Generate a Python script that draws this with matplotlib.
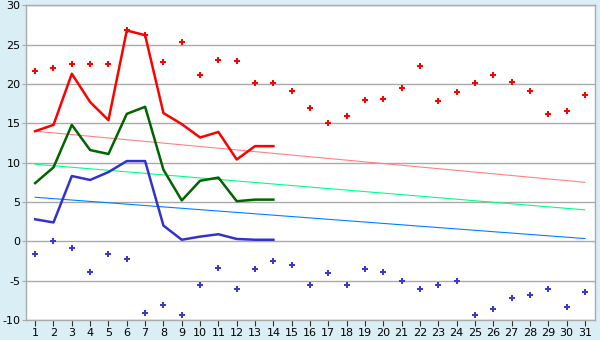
import numpy as np
import matplotlib
matplotlib.use('Agg')
import matplotlib.pyplot as plt

plt.rcParams['axes.unicode_minus'] = False

days = list(range(1, 32))

# daily max / min markers
max_pts = [21.7, 22.0, 22.5, 22.6, 22.5, 26.9, 26.2, 22.8, 25.3, 21.1, 23.0, 22.9, 20.1, 20.1, 19.1,
           16.9, 15.0, 15.9, 17.9, 18.1, 19.5, 22.3, 17.8, 19.0, 20.1, 21.1, 20.2, 19.1, 16.2, 16.6, 18.6]
min_pts = [-1.6, 0.0, -0.9, -3.9, -1.6, -2.2, -9.1, -8.1, -9.4, -5.6, -3.4, -6.0, -3.5, -2.5, -3.0,
           -5.5, -4.0, -5.6, -3.5, -3.9, -5.0, -6.1, -5.6, -5.0, -9.4, -8.6, -7.2, -6.8, -6.1, -8.3, -6.5]

# current month lines (days 1-14)
line_days = list(range(1, 15))
red_line = [14.0, 14.8, 21.3, 17.7, 15.4, 26.8, 26.2, 16.3, 14.9, 13.2, 13.9, 10.4, 12.1, 12.1]
green_line = [7.4, 9.4, 14.8, 11.6, 11.1, 16.2, 17.1, 9.1, 5.2, 7.7, 8.1, 5.1, 5.3, 5.3]
blue_line = [2.8, 2.4, 8.3, 7.8, 8.8, 10.2, 10.2, 2.0, 0.2, 0.6, 0.9, 0.3, 0.2, 0.2]

# trend lines: values on day 1 and day 31
trend_days = [1, 31]
red_trend = [14.0, 7.5]
green_trend = [9.8, 4.0]
blue_trend = [5.6, 0.35]

bg = '#d9eef5'
grid = '#aaaaaa'

fig = plt.figure(figsize=(6, 3.4), dpi=100, facecolor=bg)
ax = fig.add_axes([26 / 600, 1 - 320 / 340, 569 / 600, 314.7 / 340])
ax.set_facecolor('white')

ax.plot(trend_days, red_trend, color='#ff8080', lw=0.8)
ax.plot(trend_days, green_trend, color='#00ff80', lw=0.8)
ax.plot(trend_days, blue_trend, color='#0080ff', lw=0.8)

ax.plot(line_days, red_line, color='#ff0000', lw=1.8)
ax.plot(line_days, green_line, color='#006400', lw=1.8)
ax.plot(line_days, blue_line, color='#3333cc', lw=1.8)

ax.plot(days, max_pts, ls='none', marker='P', ms=4.5, color='#ff0000', mew=0)
ax.plot(days, min_pts, ls='none', marker='P', ms=4.5, color='#3a3acc', mew=0)

ax.set_xlim(0.5, 31.55)
ax.set_ylim(-10, 30)
ax.set_xticks(days)
ax.set_yticks(range(-10, 31, 5))
ax.grid(axis='y', color=grid, lw=1)
ax.set_axisbelow(True)
for s in ax.spines.values():
    s.set_color(grid)
    s.set_linewidth(1)
ax.tick_params(axis='y', length=3, color=grid, pad=1, labelsize=8)
ax.tick_params(axis='x', length=4, color='#333333', pad=2, labelsize=8)

fig.savefig('out.png', dpi=100, facecolor=bg)
